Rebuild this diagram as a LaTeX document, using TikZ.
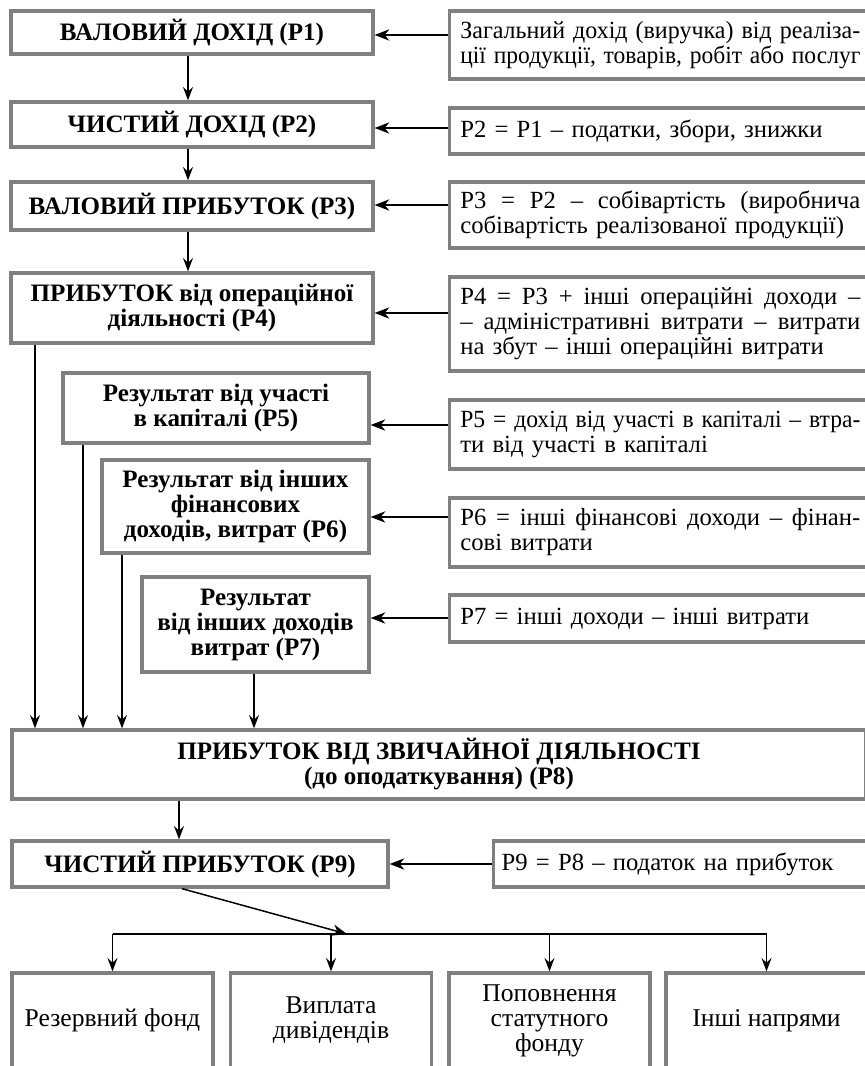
\documentclass[tikz,border=0pt]{standalone}
\usepackage{fontspec}
\usepackage{graphicx}
\setmainfont{Liberation Serif}
\usetikzlibrary{arrows.meta}
\definecolor{boxgray}{RGB}{128,128,128}
\newlength\rtextw
\setlength{\rtextw}{300pt}
\newsavebox\jbox
% justified line: stretch the spaces, or squeeze a line that is too long
\newcommand{\jline}[1]{\sbox\jbox{#1}\ifdim\wd\jbox>\rtextw\resizebox{\rtextw}{\height}{\usebox\jbox}\else\makebox[\rtextw][s]{\spaceskip=0pt\xspaceskip=0pt #1}\fi}

\begin{document}
\begin{tikzpicture}[x=0.75pt,y=0.75pt,yscale=-1,xscale=1,
  every node/.style={font=\fontsize{18.5}{18.75}\selectfont},
  pbox/.style={draw=boxgray,line width=2.5pt,fill=white,align=center,inner sep=0pt,font=\fontsize{18.8}{18.75}\selectfont\bfseries},
  rbox/.style={draw=boxgray,line width=2.5pt,fill=white,anchor=west,align=left,inner xsep=8pt,inner ysep=0pt,text width=\rtextw},
  fbox/.style={draw=boxgray,line width=2.5pt,fill=white,align=center,inner sep=0pt,minimum width=150.75pt,minimum height=71.25pt,font=\fontsize{19.2}{18.75}\selectfont},
  sidearr/.style={-{Stealth[length=11pt,width=8.5pt,inset=3.5pt]},line width=1.1pt},
  downarr/.style={-{Stealth[length=10pt,width=7.5pt,inset=3.5pt]},line width=0.9pt}
]
\useasboundingbox (0,0) rectangle (864,1066);

%Left column: results
\node [pbox,minimum width=271.5pt,minimum height=32.25pt] (p1) at (192,32.5) {ВАЛОВИЙ ДОХІД (Р1)};
\node [pbox,minimum width=271.5pt,minimum height=33.75pt] (p2) at (192,124.5) {ЧИСТИЙ ДОХІД (Р2)};
\node [pbox,minimum width=271.5pt,minimum height=36pt] (p3) at (192,206) {ВАЛОВИЙ ПРИБУТОК (Р3)};
\node [pbox,minimum width=271.5pt,minimum height=52.5pt] (p4) at (192,308) {ПРИБУТОК від операційної\\діяльності (Р4)};
\node [pbox,minimum width=229.5pt,minimum height=52.5pt] (p5) at (216,408) {Результат від участі\\в капіталі (Р5)};
\node [pbox,minimum width=200.25pt,minimum height=69.75pt] (p6) at (235.5,506.5) {Результат від інших\\фінансових\\доходів, витрат (Р6)};
\node [pbox,minimum width=170.25pt,minimum height=71.25pt] (p7) at (255.5,624.5) {Результат\\від інших доходів\\витрат (Р7)};
\node [pbox,minimum width=640.5pt,minimum height=51.75pt] (p8) at (439,764.5) {ПРИБУТОК ВІД ЗВИЧАЙНОЇ ДІЯЛЬНОСТІ\\(до оподаткування) (Р8)};
\node [pbox,minimum width=282pt,minimum height=34.5pt] (p9) at (200,864) {ЧИСТИЙ ПРИБУТОК (Р9)};

%Right column: formulas
\node [rbox,minimum height=51pt] (r1) at (448,45) {\jline{Загальний дохід (виручка) від реаліза-}\\\jline{ції продукції, товарів, робіт або послуг}};
\node [rbox,minimum height=34.5pt] (r2) at (448,131) {Р2 = Р1 – податки, збори, знижки};
\node [rbox,minimum height=49.5pt] (r3) at (448,215) {\jline{Р3 = Р2 – собівартість (виробнича}\\собівартість реалізованої продукції)};
\node [rbox,minimum height=70.5pt] (r4) at (448,324) {\jline{Р4 = Р3 + інші операційні доходи –}\\\jline{– адміністративні витрати – витрати}\\на збут – інші операційні витрати};
\node [rbox,minimum height=51.75pt] (r5) at (448,434.5) {\jline{Р5 = дохід від участі в капіталі – втра-}\\ти від участі в капіталі};
\node [rbox,minimum height=51.75pt] (r6) at (448,532.5) {\jline{Р6 = інші фінансові доходи – фінан-}\\сові витрати};
\node [rbox,minimum height=35.25pt] (r7) at (448,618.5) {Р7 = інші доходи – інші витрати};
\node [rbox,minimum height=34.5pt,text width=270pt,inner xsep=6pt] (r9) at (492,864) {Р9 = Р8 – податок на прибуток};

%Bottom row: use of net profit
\node [fbox] (b1) at (112.5,1020.5) {Резервний фонд};
\node [fbox] (b2) at (331,1020.5) {Виплата\\дивідендів};
\node [fbox] (b3) at (549.5,1020.5) {Поповнення\\статутного\\фонду};
\node [fbox] (b4) at (766.5,1020.5) {Інші напрями};

% Arrows from formulas
\foreach \i/\y in {1/35,2/128,3/205,4/313,5/425,6/517,7/618,9/864}
  \draw [sidearr] (r\i.west |- 0,\y) -- (p\i.east |- 0,\y);

% Arrows down the chain
\draw [downarr] (p1.south -| 188,0) -- (p2.north -| 188,0);
\draw [downarr] (p2.south -| 188,0) -- (p3.north -| 188,0);
\draw [downarr] (p3.south -| 188,0) -- (p4.north -| 188,0);
\draw [downarr] (p4.south -| 35,0) -- (p8.north -| 35,0);
\draw [downarr] (p5.south -| 83,0) -- (p8.north -| 83,0);
\draw [downarr] (p6.south -| 122,0) -- (p8.north -| 122,0);
\draw [downarr] (p7.south -| 254,0) -- (p8.north -| 254,0);
\draw [downarr] (p8.south -| 179,0) -- (p9.north -| 179,0);

% Distribution of net profit
\coordinate (hub) at (347,934);
\draw [sidearr] (p9.south -| 182,0) -- (hub);
\draw [line width=1.1pt] (b1.north |- hub) -- (b4.north |- hub);
\foreach \j in {1,...,4}
  \draw [downarr] (b\j.north |- hub) -- (b\j.north);
\end{tikzpicture}
\end{document}
